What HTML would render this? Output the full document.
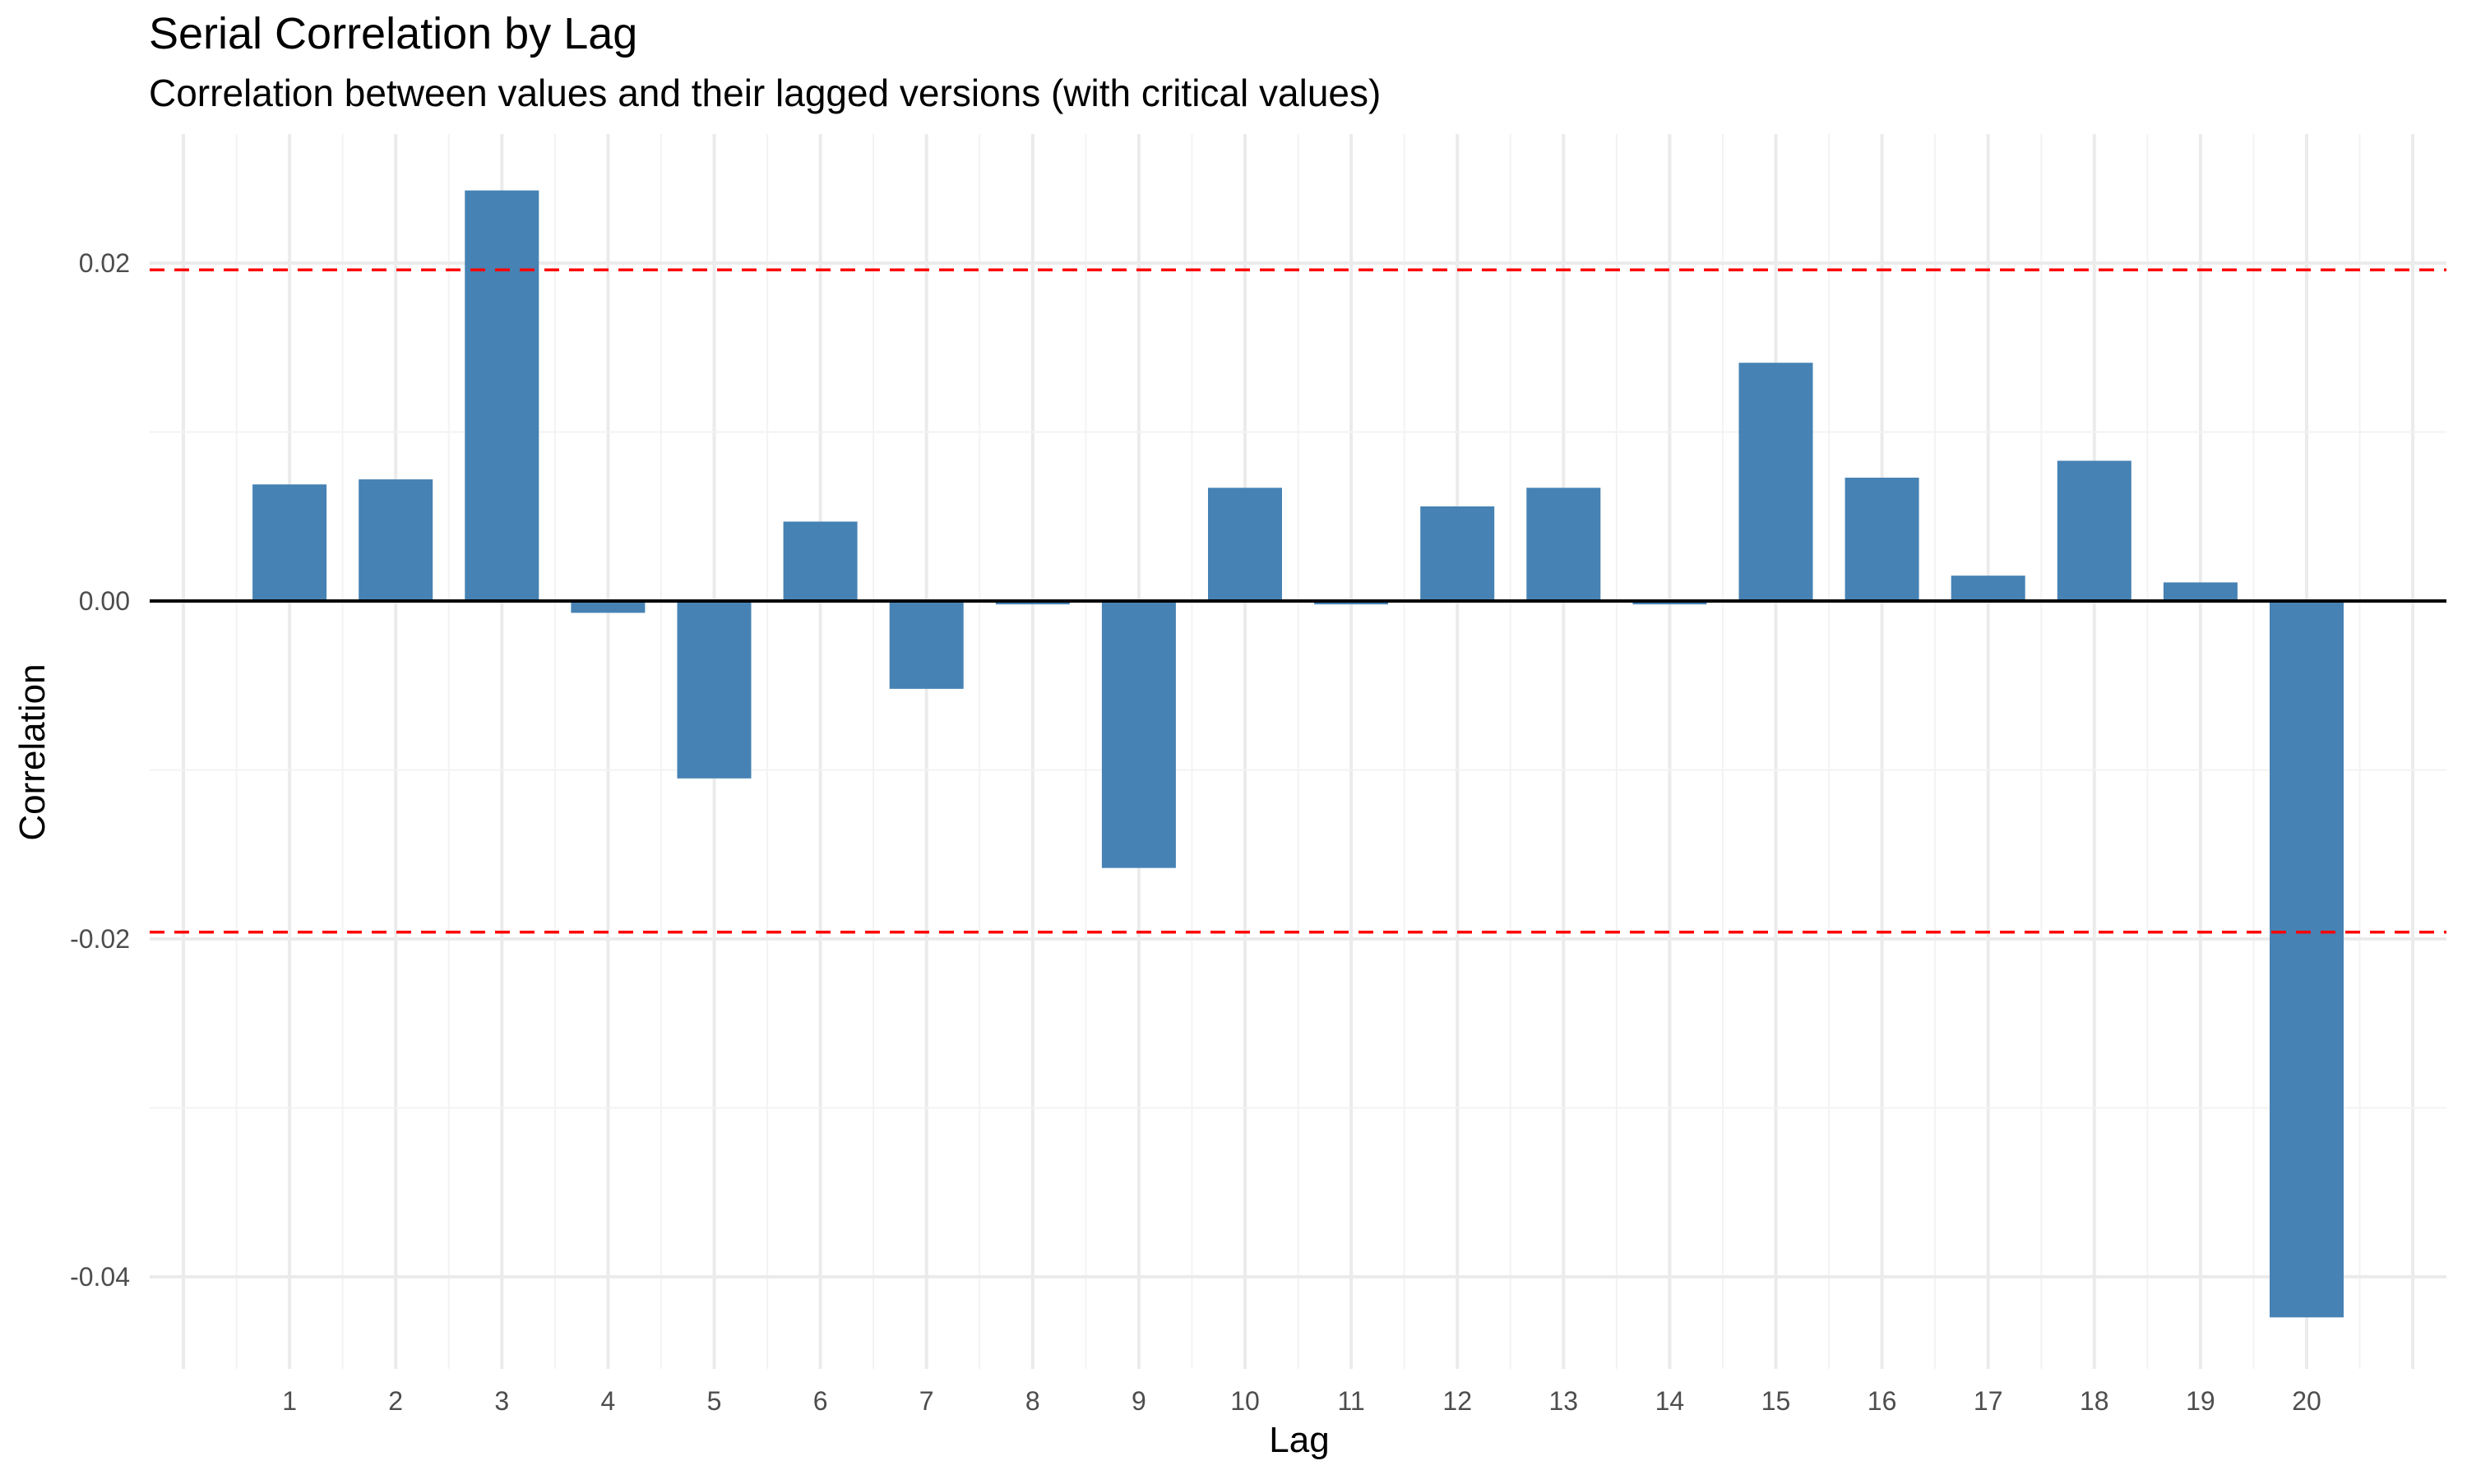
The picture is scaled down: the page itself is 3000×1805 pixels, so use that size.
<!DOCTYPE html>
<html><head><meta charset="utf-8"><style>
body{margin:0;background:#fff}
svg text{font-family:"Liberation Sans",sans-serif}
</style></head><body>
<svg id="chart" width="3000" height="1800" xmlns="http://www.w3.org/2000/svg">
<rect width="3000" height="1800" fill="#fff"/>
<text x="181" y="59" font-size="54" fill="#000">Serial Correlation by Lag</text>
<text x="181" y="129" font-size="46" fill="#000">Correlation between values and their lagged versions (with critical values)</text>
<g id="grid"></g><g id="bars"></g><g id="ref"></g><g id="axes"></g>
<text x="1580" y="1766" font-size="44" text-anchor="middle">Lag</text>
<text transform="translate(54,915) rotate(-90)" font-size="44" text-anchor="middle">Correlation</text>
</svg>
<script>
const lags=[1,2,3,4,5,6,7,8,9,10,11,12,13,14,15,16,17,18,19,20];
const correlations=[0.0069,0.0072,0.0243,-0.0007,-0.0105,0.0047,-0.0052,-0.0002,-0.0158,0.0067,-0.0002,0.0056,0.0067,-0.0002,0.0141,0.0073,0.0015,0.0083,0.0011,-0.0424];
const criticalValue=0.0196;
const yTicks=[0.02,0,-0.02,-0.04];
const yTickLabels=["0.02","0.00","-0.02","-0.04"];
const yMinor=[0.01,-0.01,-0.03];
const NS="http://www.w3.org/2000/svg";
const L=182,R=2975,T=163,B=1665;
const x=v=>223+(v)*129.1;
const y=v=>731-v*20550;
function mk(p,tag,attrs){const e=document.createElementNS(NS,tag);for(const k in attrs)e.setAttribute(k,attrs[k]);document.getElementById(p).appendChild(e);return e;}
for(let i=0;i<=21;i++){
 let e=mk('grid','line',{x1:x(i),x2:x(i),y1:T,y2:B,stroke:'#ebebeb','stroke-width':4});
 
 
 if(i<21){let m=mk('grid','line',{x1:x(i+0.5),x2:x(i+0.5),y1:T,y2:B,stroke:'#f3f3f3','stroke-width':2});
 
 }
}
yMinor.forEach(v=>{let e=mk('grid','line',{x1:L,x2:R,y1:y(v),y2:y(v),stroke:'#f3f3f3','stroke-width':2});
 
 });
yTicks.forEach((v,i)=>{let e=mk('grid','line',{x1:L,x2:R,y1:y(v),y2:y(v),stroke:'#ebebeb','stroke-width':4});
 
 
 let t=mk('axes','text',{x:158,y:y(v)+11,'font-size':32,'text-anchor':'end',fill:'#4d4d4d'});
 t.textContent=yTickLabels[i];
 
 });
lags.forEach((l,i)=>{const v=correlations[i];const w=90;
 let b=mk('bars','rect',{x:x(l)-w/2,y:Math.min(y(v),y(0)),width:w,height:Math.max(1,Math.abs(y(v)-y(0))),fill:'#4682b4'});
 
 
 let t=mk('axes','text',{x:x(l),y:1715,'font-size':32,'text-anchor':'middle',fill:'#4d4d4d'});
 t.textContent=String(l);
 
 });
[criticalValue,-criticalValue].forEach(v=>{let e=mk('ref','line',{x1:L,x2:R,y1:y(v),y2:y(v),stroke:'#ff0000','stroke-width':3.5,'stroke-dasharray':'18 12'});
 
 });
let z=mk('ref','line',{x1:L,x2:R,y1:y(0),y2:y(0),stroke:'#000','stroke-width':4});


</script>
</body></html>
